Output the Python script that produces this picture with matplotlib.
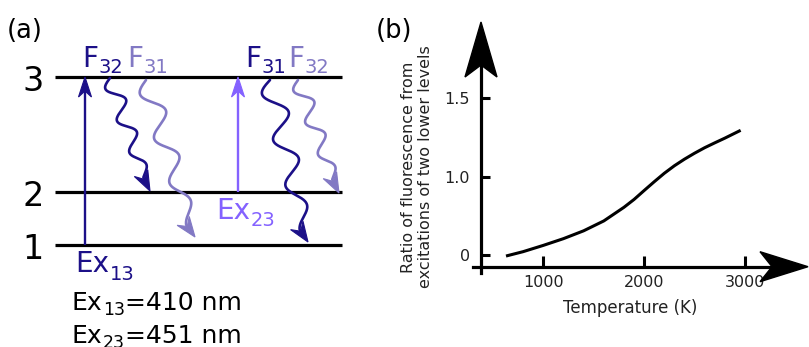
import matplotlib
matplotlib.use("Agg")
import matplotlib.pyplot as plt
import numpy as np
from matplotlib.patches import Polygon
from matplotlib.lines import Line2D
from matplotlib.transforms import Affine2D, IdentityTransform

plt.rcParams["font.family"] = "DejaVu Sans"

# ------------------------------------------------------------------
# panel (a): energy-level diagram (laid out in figure pixels)
# ------------------------------------------------------------------
level_names = ["1", "2", "3"]
level_y = [245, 192, 77]
level_x = (55, 342)

DARK = "#1c1088"
LIGHT = "#8279c4"
VIOLET = "#8462ff"

# excitation arrows: x, from level, to level, colour
excitations = [(85, 245, 77, DARK), (238, 192, 77, VIOLET)]

# wavy emission arrows: start, tip, periods, amplitude, colour
emissions = [
    ((110, 78), (150, 191), 3.5, 8, DARK),
    ((146, 80), (195, 237), 3.5, 10, LIGHT),
    ((270, 80), (308, 242), 3.5, 11, DARK),
    ((298, 80), (339, 193), 3.5, 8, LIGHT),
]

# ------------------------------------------------------------------
# panel (b): fluorescence ratio vs temperature
# ------------------------------------------------------------------
temp_k = [630, 800, 1000, 1200, 1400, 1600, 1800, 1900, 2000, 2100, 2200,
          2300, 2400, 2500, 2600, 2700, 2800, 2957]
ratio = [0.494, 0.522, 0.562, 0.605, 0.655, 0.718, 0.805, 0.855, 0.912, 0.968,
         1.022, 1.070, 1.112, 1.150, 1.185, 1.216, 1.246, 1.296]
xticks = [1000, 2000, 3000]
yticks = [0.5, 1.0, 1.5]
ytick_labels = ["0", "1.0", "1.5"]


def chain_text(ax, x, y, parts, size, sub_size, drop, color):
    """main, sub, main ... ; y is the baseline in pixels, drop in pixels"""
    prev = ax.text(x, y, parts[0], fontsize=size, color=color,
                   ha="left", va="baseline")
    for i, s in enumerate(parts[1:], start=1):
        sub = i % 2 == 1
        prev = ax.annotate(s, xy=(1, y + drop if sub else y),
                           xycoords=(prev, "data"),
                           xytext=(0.3, 0), textcoords="offset points",
                           fontsize=sub_size if sub else size, color=color,
                           ha="left", va="baseline")


def head(ax, tip, back, L, w, notch, color):
    tip = np.asarray(tip, float)
    u = tip - np.asarray(back, float)
    u /= np.hypot(*u)
    n = np.array([-u[1], u[0]])
    pts = [tip, tip - L * u + w * n, tip - (L - notch) * u, tip - L * u - w * n]
    ax.add_patch(Polygon(pts, closed=True, facecolor=color, edgecolor=color,
                         lw=0.8, joinstyle="miter", zorder=4))
    return tip - (L - notch) * u


def wavy(ax, start, tip, periods, amp, color):
    p0 = np.array(start, float)
    p1 = np.array(tip, float)
    d = p1 - p0
    u = d / np.hypot(*d)
    n = np.array([-u[1], u[0]])
    s = np.linspace(0, 1, 600)
    # wiggle, damped a little towards the tip so the head points downwards
    off = amp * np.sin(2 * np.pi * periods * s) * (1 - 0.65 * s ** 3)
    pts = p0 + np.outer(s, d) + np.outer(off, n)
    dist = np.hypot(*(pts - p1).T)
    k = np.argmax(dist < 15)
    base = head(ax, p1, pts[k], 20, 7.5, 7, color)
    ax.plot(np.r_[pts[:k, 0], base[0]], np.r_[pts[:k, 1], base[1]],
            color=color, lw=1.9, solid_capstyle="round", solid_joinstyle="round")


fig = plt.figure(figsize=(8.09, 3.47), dpi=100)
ax = fig.add_axes([0, 0, 1, 1])
ax.set_xlim(0, 809)
ax.set_ylim(347, 0)
ax.axis("off")

for name, y in zip(level_names, level_y):
    ax.plot(level_x, [y, y], color="black", lw=2.3, solid_capstyle="butt")
    ax.text(33, y + 1, name, fontsize=24, ha="center", va="center_baseline")

for x, y0, y1, c in excitations:
    base = head(ax, (x, y1), (x, y0), 20, 6.5, 6, c)
    ax.plot([x, x], [y0, base[1]], color=c, lw=1.7, solid_capstyle="butt")

for st, tp, per, amp, c in emissions:
    wavy(ax, st, tp, per, amp, c)

chain_text(ax, 82, 67, ["F", "32"], 20, 14, 6, DARK)
chain_text(ax, 127, 67, ["F", "31"], 20, 14, 6, LIGHT)
chain_text(ax, 245, 67, ["F", "31"], 20, 14, 6, DARK)
chain_text(ax, 288, 67, ["F", "32"], 20, 14, 6, LIGHT)
chain_text(ax, 75, 272, ["Ex", "13"], 20, 14, 8, DARK)
chain_text(ax, 216, 219, ["Ex", "23"], 20, 14, 7, VIOLET)
chain_text(ax, 72, 310, ["Ex", "13", "=410 nm"], 18, 12.5, 5, "black")
chain_text(ax, 72, 343, ["Ex", "23", "=451 nm"], 18, 12.5, 5, "black")

ax.text(7, 31, "(a)", fontsize=18.5, ha="left", va="center")
ax.text(376, 31, "(b)", fontsize=18.5, ha="left", va="center")

# ------------------------------------------------------------------
# panel (b)
# ------------------------------------------------------------------
axb = fig.add_axes([481 / 809, 1 - 266.7 / 347, (808 - 481) / 809, (266.7 - 22) / 347])
axb.patch.set_alpha(0)
axb.set_xlim(382, 3625)
axb.set_ylim(0.426, 1.987)
for sp in axb.spines.values():
    sp.set_visible(False)
axb.plot(temp_k, ratio, color="black", lw=2.2, solid_capstyle="butt",
         solid_joinstyle="round")
axb.set_xticks(xticks)
axb.set_yticks(yticks, ytick_labels)
axb.tick_params(axis="x", direction="in", length=8, width=2.2, labelsize=11.5,
                pad=6, labelcolor="#222")
axb.tick_params(axis="y", direction="in", length=6.5, width=2.2, labelsize=11.5,
                pad=8, labelcolor="#222")

ox, oy = axb.transAxes.transform((0, 0))
tx, ty = axb.transAxes.transform((1, 1))
axb.add_line(Line2D([ox, ox], [oy - 6, ty - 40], color="black", lw=2.3,
                    transform=IdentityTransform(), clip_on=False))
axb.add_line(Line2D([ox - 8, tx - 36], [oy, oy], color="black", lw=2.3,
                    transform=IdentityTransform(), clip_on=False))
yhead = [(0, 0), (-16, -55), (0, -43), (16, -55)]
xhead = [(0, 0), (-48, 15), (-36, 0), (-48, -15)]
axb.add_patch(Polygon(yhead, closed=True, color="black", clip_on=False,
                      transform=Affine2D().translate(ox, ty), zorder=5))
axb.add_patch(Polygon(xhead, closed=True, color="black", clip_on=False,
                      transform=Affine2D().translate(tx, oy), zorder=5))

fig.text(417 / 809, 1 - 167 / 347,
         "Ratio of fluorescence from\nexcitations of two lower levels",
         rotation=90, ha="center", va="center", fontsize=11.5,
         multialignment="center", color="#222", linespacing=1.15)
fig.text(630 / 809, 1 - 308 / 347, "Temperature (K)", ha="center", va="center",
         fontsize=12, color="#222")

fig.savefig("out.png", dpi=100)
